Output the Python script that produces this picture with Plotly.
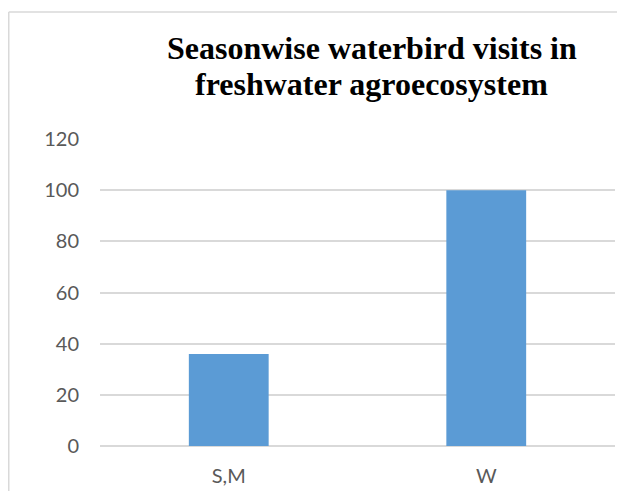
import plotly.graph_objects as go

seasons = ["S,M", "W"]
visits = [36, 100]
y_ticks = [0, 20, 40, 60, 80, 100, 120]
title_lines = ["Seasonwise waterbird visits in", "freshwater agroecosystem"]

fig = go.Figure()

fig.add_trace(
    go.Bar(
        x=seasons,
        y=visits,
        marker=dict(color="#5b9bd5", line=dict(width=0)),
        width=0.31,
        showlegend=False,
    )
)

# title as two annotations so the line spacing is tighter than plotly's default
for line, ypos in zip(title_lines, [1.298, 1.180]):
    fig.add_annotation(
        text=line,
        xref="paper",
        yref="paper",
        x=0.528,
        y=ypos,
        xanchor="center",
        yanchor="middle",
        showarrow=False,
        font=dict(family="Liberation Serif", size=32, color="black", weight="bold"),
    )

# chart-area border (only left and top edges visible in the crop)
fig.add_shape(type="line", xref="paper", yref="paper", x0=-0.1772, x1=-0.1772, y0=-0.3, y1=1.4137,
              line=dict(color="#d9d9d9", width=1.5))
fig.add_shape(type="line", xref="paper", yref="paper", x0=-0.1772, x1=1.2, y0=1.4137, y1=1.4137,
              line=dict(color="#d9d9d9", width=1.5))

fig.update_layout(
    width=625,
    height=491,
    margin=dict(l=92, r=18, t=131, b=53),
    paper_bgcolor="white",
    plot_bgcolor="white",
    xaxis=dict(
        showgrid=False,
        showline=False,
        tickfont=dict(family="Lato", size=20, color="#595959"),
        ticklabelstandoff=16,
    ),
    yaxis=dict(
        range=[0, 120],
        tickvals=y_ticks,
        showgrid=True,
        gridcolor="#d9d9d9",
        gridwidth=1.5,
        zeroline=True,
        zerolinecolor="#d9d9d9",
        zerolinewidth=1.5,
        showline=False,
        tickfont=dict(family="Lato", size=20, color="#595959"),
        ticklabelstandoff=20,
    ),
)

fig.write_html("out.html")
